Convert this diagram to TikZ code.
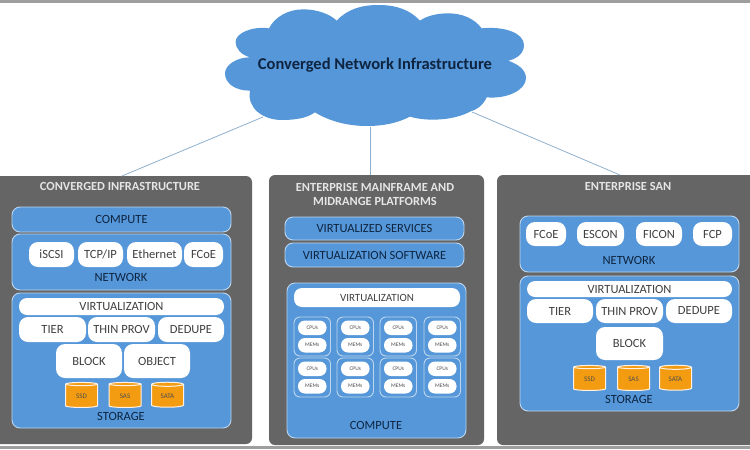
\documentclass[tikz,border=0pt]{standalone}
\usepackage{fontspec}
\setmainfont{Carlito}
\usetikzlibrary{shapes.geometric}
\definecolor{blu}{HTML}{5597D8}
\definecolor{edgeb}{HTML}{BCD6EF}
\definecolor{pan}{HTML}{656565}
\definecolor{ink}{HTML}{0E2440}
\definecolor{org}{HTML}{F39C12}
\definecolor{lnk}{HTML}{8FB0CE}
\tikzset{
 boxbase/.style={rounded corners=#1,inner sep=0pt,outer sep=0pt,align=center},
 panel/.style={boxbase=6pt,fill=pan},
 ptitle/.style={text=white!90!black,inner sep=0pt,align=center,font=\fontsize{12.4}{14}\selectfont\bfseries},
 band/.style={boxbase=8pt,fill=blu,draw=edgeb,line width=.9pt,text=ink,font=\fontsize{12.5}{14}\selectfont},
 pill/.style={boxbase=9pt,fill=white,text=black!75,font=\fontsize{12.5}{14}\selectfont},
 slim/.style={boxbase=8pt,fill=white,text=black!75,font=\fontsize{11}{13}\selectfont},
 mini/.style={boxbase=6pt,draw=edgeb,line width=.9pt},
 tiny/.style={boxbase=7pt,fill=white,text=black!70,font=\fontsize{5.5}{6}\selectfont},
 lbl/.style={text=ink,inner sep=0pt,font=\fontsize{12.5}{14}\selectfont},
 can/.style={cylinder,shape border rotate=90,aspect=.3,draw=white!90!orange,line width=1pt,fill=org,inner sep=0pt,outer sep=0pt,text=black!70,font=\fontsize{7}{8}\selectfont,minimum width=32pt,minimum height=25pt},
 link/.style={draw=lnk,line width=.8pt},
 bar/.style={fill=black!38,draw=none}
}
\newcommand{\bx}[7]{\node[#6,minimum width={((#4)-(#2))*1pt},minimum height={((#5)-(#3))*1pt}] (#1) at ({((#2)+(#4))/2},{((#3)+(#5))/2}) {#7};}
\begin{document}
\begin{tikzpicture}[x=1pt,y=-1pt]
\useasboundingbox (0,0) rectangle (750,450);
\clip (0,0) rectangle (750,450);
\fill[white] (0,0) rectangle (750,450);
\fill[bar] (0,0) rectangle (750,3);
\fill[bar] (0,446) rectangle (750,449);
% connectors' free ends on the cloud
\coordinate (cl) at (263,117);
\coordinate (cm) at (370,127);
\coordinate (cr) at (472,112);
% panels
\bx{p1}{-8}{176}{252}{444}{panel}{}
\bx{p2}{269}{175}{484}{445}{panel}{}
\bx{p3}{497}{175}{760}{445}{panel}{}
\coordinate (p1t) at (122,176);
\coordinate (p2t) at (370,175);
\coordinate (p3t) at (620,175);
\draw[link] (cl) -- (p1t);
\draw[link] (cm) -- (p2t);
\draw[link] (cr) -- (p3t);
\node[ptitle] (t1) at (120,186) {CONVERGED INFRASTRUCTURE};
\node[ptitle] (t2) at (375,194) {ENTERPRISE MAINFRAME AND\\MIDRANGE PLATFORMS};
\node[ptitle] (t3) at (628,186) {ENTERPRISE SAN};
% cloud
\begin{scope}[xshift=200pt,x=.3333pt,y=-.3333pt]
\fill[blu] (410,62) .. controls (440,30) and (480,15) .. (535,15) .. controls (590,15) and (630,30) .. (660,62)
 .. controls (680,48) and (710,40) .. (745,40) .. controls (790,40) and (825,58) .. (845,85)
 .. controls (915,78) and (972,100) .. (972,135) .. controls (972,158) and (955,175) .. (925,182)
 .. controls (960,195) and (978,212) .. (978,235) .. controls (978,270) and (920,298) .. (860,292)
 .. controls (850,315) and (830,330) .. (810,335) .. controls (760,362) and (680,365) .. (630,350)
 .. controls (590,370) and (550,378) .. (500,378) .. controls (440,378) and (385,362) .. (345,337)
 .. controls (320,355) and (285,360) .. (245,360) .. controls (190,360) and (140,325) .. (150,272)
 .. controls (105,272) and (75,250) .. (75,220) .. controls (75,195) and (110,172) .. (150,172)
 .. controls (125,165) and (107,148) .. (107,125) .. controls (107,100) and (155,78) .. (207,85)
 .. controls (225,50) and (265,28) .. (310,28) .. controls (350,28) and (390,42) .. (410,62) -- cycle;
\end{scope}
\node[text=ink,inner sep=0pt,font=\fontsize{16.5}{20}\selectfont\bfseries] (cloud) at (375,65) {Converged Network Infrastructure};
% panel 1
\bx{a1}{12}{207}{231}{232}{band}{COMPUTE}
\bx{a2}{12}{234}{231}{290}{band}{}
\bx{a3}{29}{242}{74}{267}{pill}{iSCSI}
\bx{a4}{78}{242}{123}{267}{pill}{TCP/IP}
\bx{a5}{127}{242}{182}{267}{pill}{Ethernet}
\bx{a6}{184}{242}{223}{267}{pill}{FCoE}
\node[lbl] (a7) at (121,277) {NETWORK};
\bx{a8}{12}{293}{231}{428}{band}{}
\bx{a9}{19}{298}{224}{315}{slim,font=\fontsize{12.5}{14}\selectfont}{VIRTUALIZATION}
\bx{a10}{19}{317}{86}{342}{pill}{TIER}
\bx{a11}{88}{317}{155}{342}{pill}{THIN PROV}
\bx{a12}{158}{317}{224}{342}{pill}{DEDUPE}
\bx{a13}{56}{344}{122}{378}{pill}{BLOCK}
\bx{a14}{124}{344}{190}{378}{pill}{OBJECT}
\node[can] (a15) at (81.5,396) {SSD};
\node[can] (a16) at (125,396) {SAS};
\node[can] (a17) at (167.5,396) {SATA};
\node[lbl] (a18) at (121,416) {STORAGE};
% panel 2
\bx{b1}{285}{217}{464}{240}{band}{VIRTUALIZED SERVICES}
\bx{b2}{285}{243}{464}{267}{band}{VIRTUALIZATION SOFTWARE}
\bx{b3}{287}{283}{466}{438}{band}{}
\bx{b4}{294}{288}{460}{307}{slim}{VIRTUALIZATION}
\foreach \c/\xa in {1/294,2/337,3/380,4/424}{
 \foreach \r/\ya in {1/317,2/358}{
  \bx{m\c\r}{\xa}{\ya}{\xa+36.5}{\ya+39}{mini}{}
  \bx{u\c\r}{\xa+4}{\ya+3.5}{\xa+32.5}{\ya+18}{tiny}{CPUs}
  \bx{v\c\r}{\xa+4}{\ya+21}{\xa+32.5}{\ya+35.5}{tiny}{MEMs}
 }
}
\node[lbl] (b5) at (376,425) {COMPUTE};
% panel 3
\bx{c1}{520}{216}{739}{272}{band}{}
\bx{c2}{526}{222}{566}{246}{pill}{FCoE}
\bx{c3}{577}{222}{624}{246}{pill}{ESCON}
\bx{c4}{636}{222}{682}{246}{pill}{FICON}
\bx{c5}{693}{222}{732}{246}{pill}{FCP}
\node[lbl] (c6) at (629,260) {NETWORK};
\bx{c7}{520}{276}{739}{411}{band}{}
\bx{c8}{527}{281}{732}{297}{slim,font=\fontsize{12.5}{14}\selectfont}{VIRTUALIZATION}
\bx{c9}{527}{299}{593}{323}{pill}{TIER}
\bx{c10}{596}{299}{663}{323}{pill}{THIN PROV}
\bx{c11}{666}{299}{732}{323}{pill}{DEDUPE}
\bx{c12}{596}{327}{663}{360}{pill}{BLOCK}
\node[can] (c13) at (589.5,379) {SSD};
\node[can] (c14) at (633.5,379) {SAS};
\node[can] (c15) at (675.5,379) {SATA};
\node[lbl] (c16) at (629,399) {STORAGE};
\end{tikzpicture}
\end{document}
